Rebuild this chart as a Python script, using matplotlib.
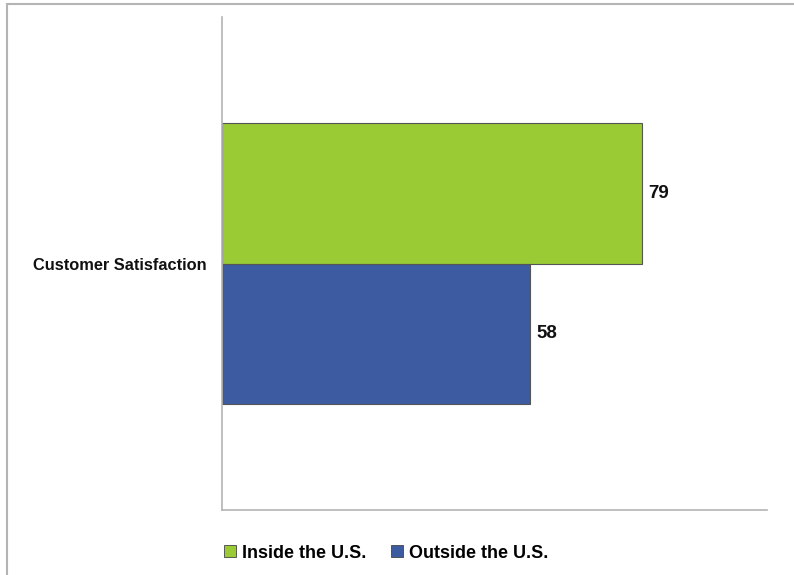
import matplotlib
matplotlib.use("Agg")
import matplotlib.pyplot as plt
from matplotlib.patches import Rectangle
from matplotlib.lines import Line2D

plt.rcParams['font.family'] = ['Liberation Sans', 'DejaVu Sans']

category = "Customer Satisfaction"
series_names = ["Inside the U.S.", "Outside the U.S."]
series_values = [79, 58]
series_colors = ["#9ACB34", "#3C5BA1"]

fig = plt.figure(figsize=(7.94, 5.75), dpi=100)
ax = fig.add_axes([222 / 794, 65 / 575, 545 / 794, 493 / 575])

bar_h = 0.572
positions = [bar_h / 2, -bar_h / 2]
for pos, val, col in zip(positions, series_values, series_colors):
    ax.barh(pos, val, height=bar_h, color=col, edgecolor="#555555", linewidth=0.8)
    ax.text(val + 1.2, pos, f"{val}", va="center", ha="left",
            fontsize=13.5, fontweight="bold", color="#111111")

ax.set_xlim(0, 102.5)
ax.set_ylim(-1, 1)
ax.set_xticks([])
ax.set_yticks([])
for s in ("top", "right"):
    ax.spines[s].set_visible(False)
for s in ("left", "bottom"):
    ax.spines[s].set_color("#b4b4b4")
    ax.spines[s].set_linewidth(1.2)

ax.text(207 / 794, 1 - 265 / 575, category, transform=fig.transFigure, ha="right", va="center",
        fontsize=11.8, fontweight="bold", color="#111111")

# outer chart frame
fig.patches.append(Rectangle((7 / 794, -0.2), 1.2, (575 - 4) / 575 + 0.2,
                             transform=fig.transFigure, fill=False,
                             edgecolor="#b4b4b4", linewidth=1.5))

handles = [Line2D([], [], marker="s", linestyle="none", markersize=8,
                  markerfacecolor=c, markeredgecolor="#444444", markeredgewidth=0.6)
           for c in series_colors]
fig.legend(handles, series_names, loc="center left", bbox_to_anchor=(206 / 794, 1 - 553 / 575),
           ncol=2, frameon=False, handletextpad=0.2, columnspacing=1.25,
           prop={"size": 13, "weight": "bold"}, handlelength=0.9)

fig.savefig("out.png", dpi=100, facecolor="white")
